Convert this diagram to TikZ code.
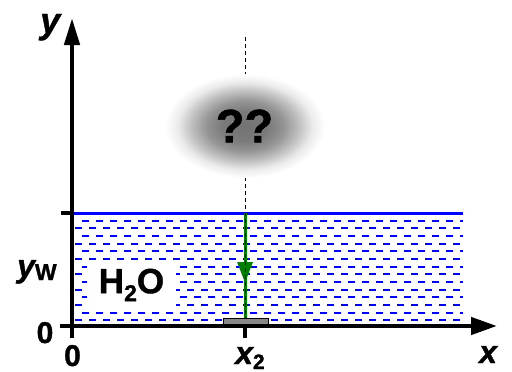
\documentclass[tikz,border=0pt]{standalone}
\usepackage{fontspec}
\setmainfont{Liberation Sans}
\newfontfamily\heavy{Liberation Sans}[UprightFont=* Bold, ItalicFont=* Bold Italic, BoldFont=* Bold, BoldItalicFont=* Bold Italic, FakeBold=1.2]
\usetikzlibrary{arrows.meta}
\definecolor{wblue}{RGB}{0,0,255}
\definecolor{agreen}{RGB}{0,128,0}
\definecolor{rgray}{RGB}{136,136,136}
\pgfdeclareradialshading{blob}{\pgfpoint{0bp}{0bp}}{color(0bp)=(black!55); color(7bp)=(black!52); color(12bp)=(black!42); color(17bp)=(black!24); color(21bp)=(black!8); color(25bp)=(white); color(50bp)=(white)}
\begin{document}
\begin{tikzpicture}[x=1pt,y=-1pt,
  axis/.style={line width=4.5pt, black},
  wdash/.style={wblue, line width=2pt, dash pattern=on 7pt off 7pt},
  wline/.style={wblue, line width=3pt},
  gline/.style={agreen, line width=3pt},
  guide/.style={black, line width=1pt, dash pattern=on 4pt off 3pt},
  lab/.style={font=\heavy\fontsize{32pt}{32pt}\selectfont, inner sep=0pt},
  num/.style={font=\heavy\fontsize{30pt}{30pt}\selectfont, inner sep=0pt}]
\useasboundingbox (0,0) rectangle (512,372);

% coordinates
\coordinate (O) at (72,326);
\coordinate (ytip) at (72,18);
\coordinate (ybot) at (72,338);
\coordinate (xleft) at (60,326);
\coordinate (xtip) at (497,326);
\coordinate (tW) at (61,213);
\coordinate (tWe) at (74,213);
\coordinate (wL) at (72,213);
\coordinate (wR) at (463,213);
\coordinate (x2top) at (245,326);
\coordinate (x2bot) at (245,338);
\coordinate (g1) at (245,213);
\coordinate (gtip) at (245,283);
\coordinate (g2) at (245,319);
\coordinate (d1) at (245,37);
\coordinate (d2) at (245,326);

% water dashes
\foreach \k in {1,...,14}{
  \pgfmathsetmacro\yy{213+7.67*\k}
  \pgfmathsetmacro\ph{mod(\k,2)*7}
  \draw[wdash, dash phase=\ph] (75,\yy) -- (463,\yy);
}
% H2O label with white background
\node[fill=white, minimum width=89pt, minimum height=46pt, inner sep=0pt,
      font=\heavy\fontsize{35pt}{35pt}\selectfont] (h2o) at (131.5,285)
      {H\raisebox{-8pt}{\fontsize{23pt}{23pt}\selectfont 2}O};
% water surface
\draw[wline] (wL) -- (wR);

% green arrow
\draw[gline] (g1) -- (g2);
\draw[gline, -{Triangle[length=21pt,width=15pt]}] (g1) -- (gtip);
% guide line
\draw[guide] (d1) -- (d2);
% blob
\shade[shading=blob] (245,126) ellipse [x radius=80, y radius=52];
\node[font=\heavy\fontsize{47pt}{47pt}\selectfont, inner sep=0pt] (qq) at (244.5,126) {??};

% gray block
\draw[line width=1pt, fill=rgray] (223,318.5) rectangle (268,325);

% axes
\draw[axis, -{Triangle[length=27pt,width=15pt]}] (ybot) -- (ytip);
\draw[axis, -{Triangle[length=26pt,width=17pt]}] (xleft) -- (xtip);
\draw[axis] (tW) -- (tWe);
\draw[line width=3.5pt] (x2top) -- (x2bot);

% labels
\node[lab, anchor=base west, font=\heavy\fontsize{36pt}{36pt}\selectfont] (ylab) at (40,33) {\itshape y};
\node[lab, anchor=base west] (ywlab) at (17,277) {\itshape y\upshape\raisebox{-3pt}{\fontsize{23pt}{23pt}\selectfont W}};
\node[num, anchor=base] (zeroy) at (45,343) {0};
\node[num, anchor=base] (zerox) at (72.5,366) {0};
\node[lab, anchor=base west] (x2lab) at (235,364) {\itshape x\upshape\raisebox{-5pt}{\fontsize{21pt}{21pt}\selectfont 2}};
\node[lab, anchor=base west] (xlab) at (479,363) {\itshape x};
\end{tikzpicture}
\end{document}
